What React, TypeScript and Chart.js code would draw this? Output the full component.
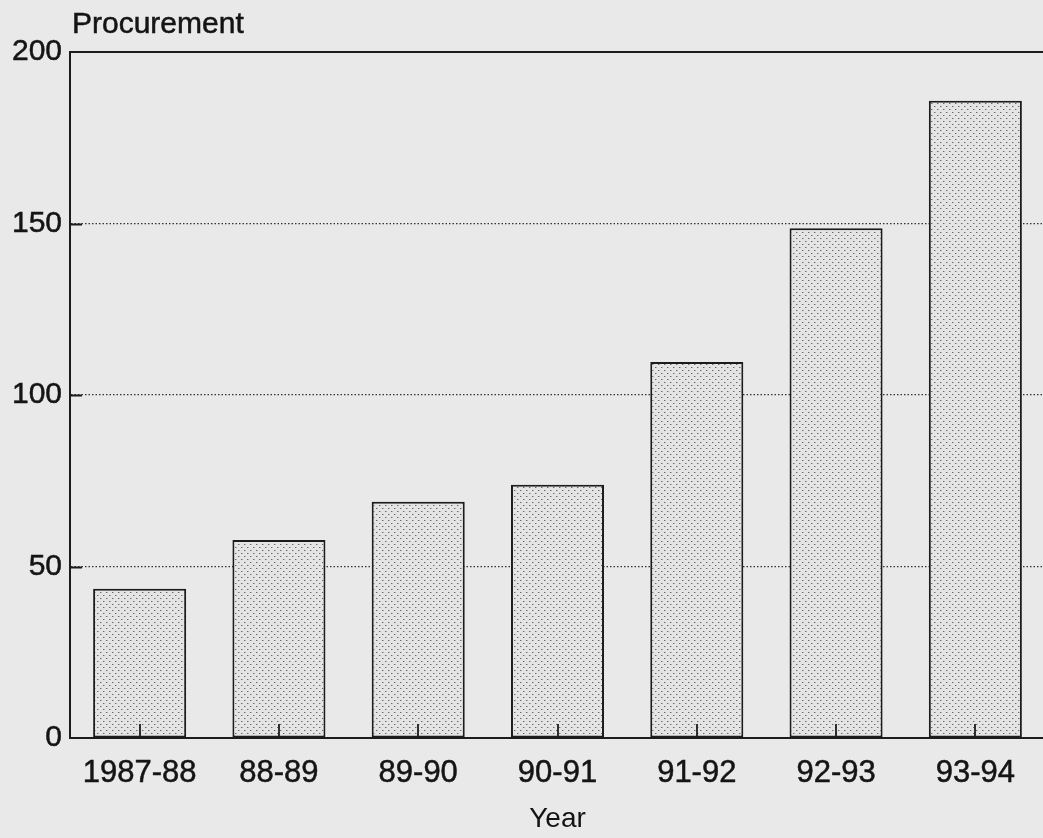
import { useEffect, useRef } from "react";
import { Chart, registerables } from "chart.js";

Chart.register(...registerables);

const categories = ["1987-88", "88-89", "89-90", "90-91", "91-92", "92-93", "93-94"];
const procurement = [43.5, 57.7, 68.9, 73.8, 109.6, 148.6, 185.8];
const yTicks = [0, 50, 100, 150, 200];
const yAxisTitle = "Procurement";
const xAxisTitle = "Year";

const W = 1060;
const H = 838;
const FAMILY = "'Liberation Sans', Arial, Helvetica, sans-serif";
const INK = "#141414";
const PAPER = "#e9e9e9";

export default function App() {
  const ref = useRef<HTMLCanvasElement>(null);

  useEffect(() => {
    const canvas = ref.current!;
    const tile = document.createElement("canvas");
    tile.width = 6;
    tile.height = 6;
    const t = tile.getContext("2d")!;
    t.fillStyle = "#e4e4e4";
    t.fillRect(0, 0, 6, 6);
    t.fillStyle = "#6a6a6a";
    t.fillRect(1, 1, 1, 1);
    t.fillRect(4, 4, 1, 1);
    t.fillStyle = "#b0b0b0";
    t.fillRect(2, 1, 1, 1);
    t.fillRect(5, 4, 1, 1);
    const pattern = canvas.getContext("2d")!.createPattern(tile, "repeat")!;

    const decor = {
      id: "decor",
      beforeDraw(chart: any) {
        const ctx = chart.ctx;
        ctx.save();
        ctx.fillStyle = PAPER;
        ctx.fillRect(0, 0, chart.width, chart.height);
        ctx.restore();
      },
      afterDatasetsDraw(chart: any) {
        const { ctx, chartArea, scales } = chart;
        const { left, right, top, bottom } = chartArea;
        ctx.save();
        ctx.strokeStyle = "#1c1c1c";
        ctx.lineWidth = 2;
        ctx.beginPath();
        ctx.moveTo(left - 1, top);
        ctx.lineTo(right, top);
        ctx.moveTo(right, top);
        ctx.lineTo(right, bottom);
        ctx.stroke();
        ctx.lineWidth = 1.8;
        ctx.beginPath();
        categories.forEach((_, i) => {
          const px = Math.round(scales.x.getPixelForTick(i));
          ctx.moveTo(px, bottom);
          ctx.lineTo(px, bottom - 14);
        });
        yTicks.forEach((v) => {
          if (v <= 0 || v >= 200) return;
          const py = Math.round(scales.y.getPixelForValue(v)) + 0.5;
          ctx.moveTo(left, py);
          ctx.lineTo(left + 12, py);
        });
        ctx.stroke();
        ctx.fillStyle = INK;
        ctx.strokeStyle = INK;
        ctx.lineWidth = 0.5;
        ctx.font = `30px ${FAMILY}`;
        ctx.textBaseline = "alphabetic";
        ctx.textAlign = "left";
        ctx.fillText(yAxisTitle, left + 2, top - 19);
        ctx.strokeText(yAxisTitle, left + 2, top - 19);
        ctx.restore();
      },
    };

    const chart = new Chart(canvas, {
      type: "bar",
      data: {
        labels: categories,
        datasets: [
          {
            label: yAxisTitle,
            data: procurement,
            backgroundColor: pattern,
            borderColor: "#1c1c1c",
            borderWidth: 2,
            borderSkipped: false,
            barPercentage: 0.668,
            categoryPercentage: 1,
          },
        ],
      },
      options: {
        responsive: false,
        animation: false,
        devicePixelRatio: 1,
        layout: { padding: { top: 52, left: 0, right: 15, bottom: 0 } },
        plugins: {
          legend: { display: false },
          tooltip: { enabled: false },
          title: { display: false },
        },
        scales: {
          x: {
            type: "category",
            grid: { display: false, drawTicks: false },
            border: { display: true, color: "#1c1c1c", width: 2 },
            ticks: {
              font: { family: FAMILY, size: 31 },
              color: INK,
              textStrokeColor: INK,
              textStrokeWidth: 0.5,
              padding: 17,
              maxRotation: 0,
              autoSkip: false,
            },
            title: {
              display: true,
              text: xAxisTitle,
              font: { family: FAMILY, size: 28 },
              color: INK,
              padding: { top: 0, bottom: 2 },
            },
            afterFit: (s: any) => {
              s.height = 100;
            },
          },
          y: {
            min: 0,
            max: 200,
            afterBuildTicks: (s: any) => {
              s.ticks = yTicks.map((v) => ({ value: v }));
            },
            ticks: {
              font: { family: FAMILY, size: 30 },
              color: INK,
              textStrokeColor: INK,
              textStrokeWidth: 0.5,
              padding: 8,
            },
            grid: {
              drawTicks: false,
              lineWidth: 1.2,
              color: (c: any) =>
                c.tick && (c.tick.value === 0 || c.tick.value === 200) ? "rgba(0,0,0,0)" : "#333",
            },
            border: { display: true, color: "#1c1c1c", width: 2, dash: [1.5, 2] },
            afterFit: (s: any) => {
              s.width = 70;
            },
          },
        },
      },
      plugins: [decor],
    } as any);

    return () => chart.destroy();
  }, []);

  return (
    <div
      style={{
        position: "fixed",
        left: 0,
        top: 0,
        width: 1043,
        height: 838,
        overflow: "hidden",
        background: PAPER,
      }}
    >
      <canvas ref={ref} width={W} height={H} style={{ width: W, height: H, display: "block" }} />
    </div>
  );
}
